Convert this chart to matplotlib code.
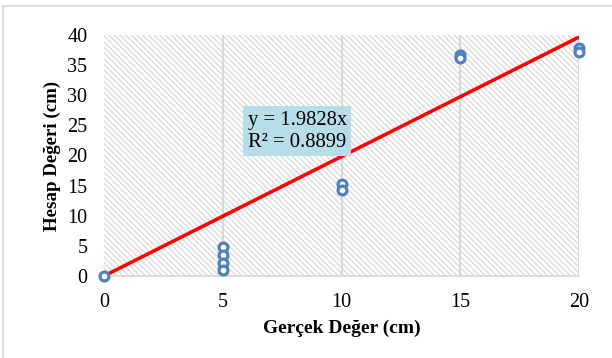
import matplotlib.pyplot as plt
from matplotlib.patches import Rectangle
from matplotlib.lines import Line2D

# measured vs calculated values
gercek = [0, 5, 5, 5, 5, 10, 10, 15, 15, 20, 20]
hesap = [0, 4.8, 3.5, 2.2, 1.0, 15.3, 14.3, 36.6, 36.2, 37.8, 37.1]

slope = 1.9828
r2 = 0.8899
fit_x = [0, 20]

x_ticks = [0, 5, 10, 15, 20]
y_ticks = [0, 5, 10, 15, 20, 25, 30, 35, 40]

plt.rcParams['font.family'] = ['Liberation Serif', 'DejaVu Serif']
plt.rcParams['hatch.linewidth'] = 1.1

fig = plt.figure(figsize=(612 / 85, 358 / 85), dpi=85)
ax = fig.add_axes([104 / 612, 1 - 276 / 358, 475 / 612, 241 / 358])

# striped plot area
ax.add_patch(Rectangle((0, 0), 1, 1, transform=ax.transAxes, facecolor='white',
                       edgecolor='#dadada', linewidth=0, hatch='\\' * 5, zorder=0))

for xv in x_ticks[1:]:
    ax.axvline(xv, color='#d9d9d9', lw=1.8, zorder=1)

ax.plot(fit_x, [slope * v for v in fit_x], color='#ff0000', lw=3, zorder=3,
        solid_capstyle='butt')
ax.plot(gercek, hesap, 'o', ms=7.5, mfc='white', mec='#4f81bd', mew=2.7,
        zorder=4, clip_on=False)

ax.text(6.05, 24, 'y = %.4fx\nR\u00b2 = %.4f' % (slope, r2), fontsize=17.5,
        va='center', ha='left', linespacing=1.2, zorder=5,
        bbox=dict(boxstyle='square,pad=0.22', facecolor='#b7dde8', edgecolor='none'))

ax.set_xlim(0, 20)
ax.set_ylim(0, 40)
ax.set_xticks(x_ticks)
ax.set_yticks(y_ticks)
ax.tick_params(length=0, labelsize=17, colors='#000000')
ax.tick_params(axis='x', pad=14)
ax.tick_params(axis='y', pad=14)
for side in ['top', 'right', 'left']:
    ax.spines[side].set_visible(False)
ax.spines['bottom'].set_color('#d9d9d9')
ax.spines['bottom'].set_linewidth(1.5)
ax.set_axisbelow(True)

ax.set_xlabel('Gerçek Değer (cm)', fontsize=16.5, fontweight='bold', labelpad=7)
ax.set_ylabel('Hesap Değeri (cm)', fontsize=16, fontweight='bold', labelpad=5)

# chart border
fig.add_artist(Line2D([3 / 612, 3 / 612], [0, 1 - 6 / 358], color='#d9d9d9', lw=1.5))
fig.add_artist(Line2D([3 / 612, 1], [1 - 6 / 358, 1 - 6 / 358], color='#d9d9d9', lw=1.5))

fig.savefig('out.png', dpi=85, facecolor='white')
